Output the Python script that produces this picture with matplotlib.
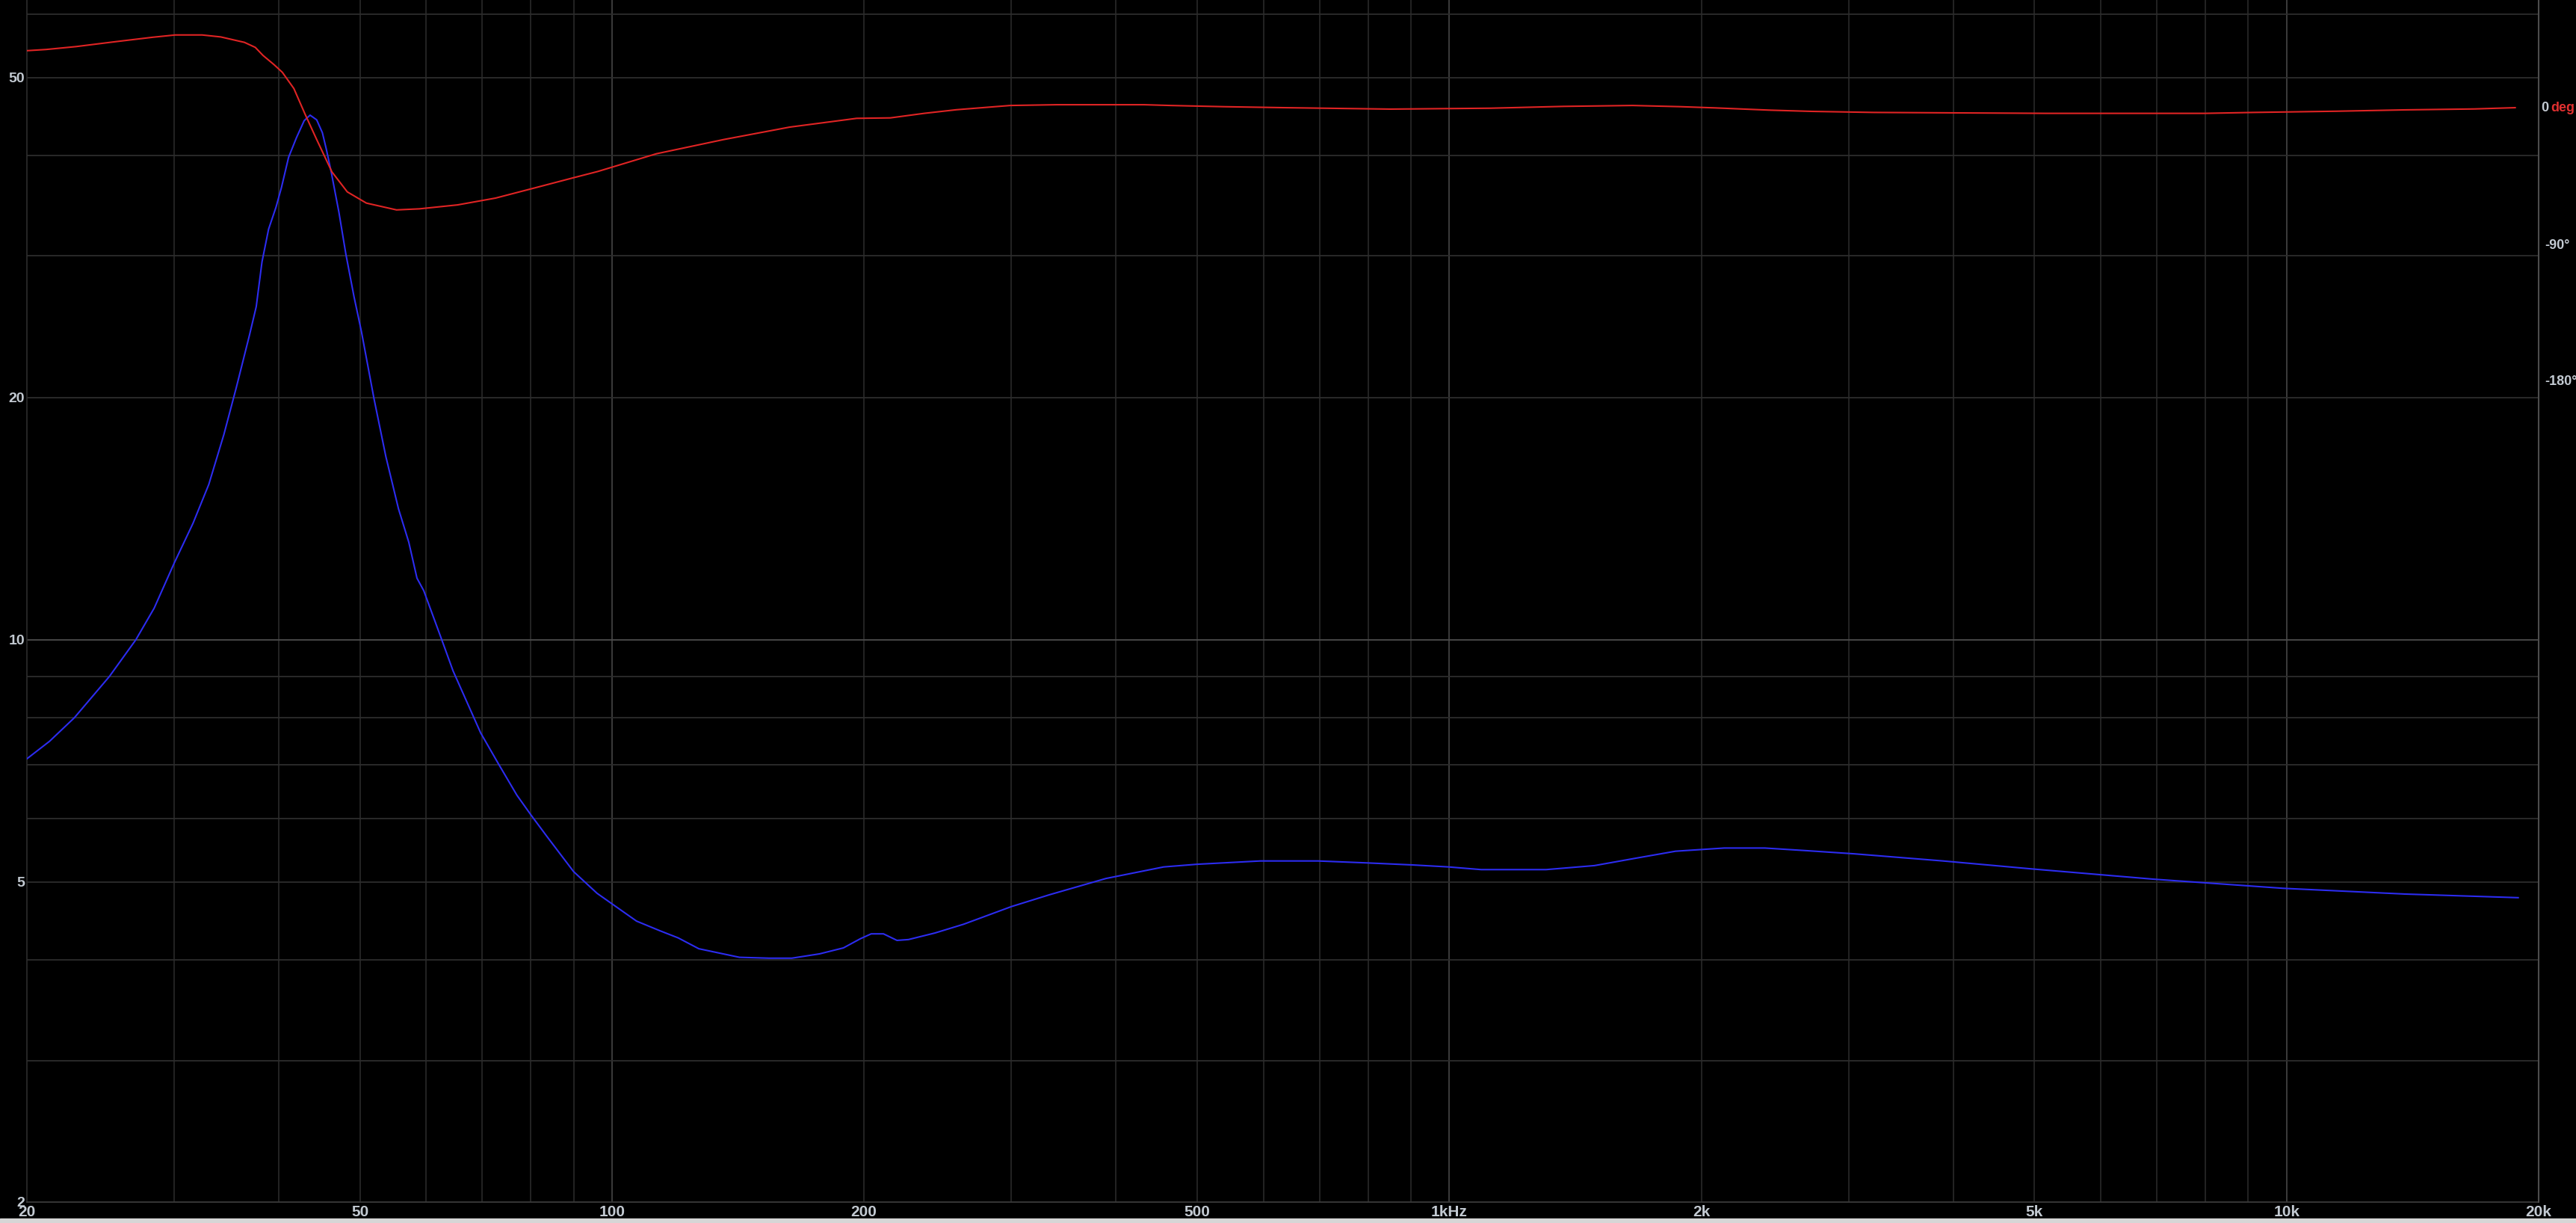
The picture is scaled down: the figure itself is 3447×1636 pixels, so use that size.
import numpy as np
import matplotlib
matplotlib.use("Agg")
import matplotlib.pyplot as plt
from matplotlib.patches import Rectangle

# Impedance magnitude (ohm) vs frequency (Hz)
imp_freq = [20, 21.3, 22.8, 25.1, 27.0, 28.4, 30.0, 31.6, 33.0, 34.4, 35.6, 36.9,
            37.6, 38.2, 38.9, 39.7, 40.3, 41.1, 42.0, 42.9, 43.6, 44.4, 45.1, 45.6,
            46.2, 47.2, 48.1, 49.2, 50.2, 52.0, 53.7, 55.6, 57.2, 58.5, 59.6, 62.5,
            64.6, 69.7, 73.2, 77.0, 80.1, 83.9, 90, 96, 107, 114, 120, 127, 142,
            154, 164, 177, 189, 198, 204, 211, 219, 226, 243, 263, 300, 333, 389,
            456, 500, 595, 697, 799, 903, 998, 1092, 1305, 1491, 1667, 1863, 2130,
            2381, 2662, 3042, 3888, 4966, 6938, 9909, 13845, 18905]
imp_ohm = [7.11, 7.48, 8.00, 9.00, 10.0, 10.95, 12.45, 13.96, 15.6, 18.0, 20.6, 23.9,
           25.95, 29.5, 32.4, 34.5, 36.5, 39.8, 42.1, 44.2, 44.9, 44.3, 42.7, 40.7,
           38.2, 34.0, 30.2, 26.7, 24.2, 19.9, 16.9, 14.55, 13.22, 11.93, 11.51, 10.06,
           9.15, 7.66, 7.01, 6.41, 6.05, 5.67, 5.15, 4.84, 4.47, 4.35, 4.26, 4.13, 4.03,
           4.02, 4.02, 4.07, 4.14, 4.25, 4.31, 4.31, 4.23, 4.24, 4.32, 4.43, 4.66, 4.82, 5.05,
           5.22, 5.26, 5.31, 5.31, 5.28, 5.25, 5.22, 5.18, 5.18, 5.24, 5.35, 5.46, 5.51,
           5.51, 5.47, 5.42, 5.31, 5.19, 5.04, 4.91, 4.83, 4.78]

# Impedance phase (degrees)
ph_freq = [20, 21.1, 22.9, 25.4, 28.3, 30.1, 32.4, 34.1, 36.4, 37.5, 38.3, 39.5,
           40.4, 41.7, 43.0, 44.4, 46.3, 48.3, 50.9, 55.3, 58.9, 65.4, 72.6, 80.7,
           89.6, 96.2, 113, 136, 163, 196, 215, 236, 258, 299, 340, 432, 464, 538,
           635, 851, 1120, 1369, 1655, 1890, 2078, 2418, 2710, 3215, 5167, 7992,
           9120, 11455, 13848, 16735, 18750]
ph_deg = [37.8, 38.6, 40.5, 43.6, 46.7, 48.2, 48.2, 46.9, 43.3, 40.0, 34.7, 28.5,
          23.5, 12.8, -4.1, -20.9, -42.3, -55.5, -62.9, -67.4, -66.7, -64.1, -59.6, -53.0,
          -46.4, -42.0, -30.3, -20.9, -12.7, -6.9, -6.6, -3.6, -1.2, 1.6, 2.1, 2.1, 1.6, 0.8,
          0.15, -0.8, -0.2, 1.0, 1.6, 0.8, 0.0, -1.5, -2.3, -3.0, -3.6, -3.6,
          -3.0, -2.2, -1.3, -0.7, 0.15]

x_ticks = [20, 50, 100, 200, 500, 1000, 2000, 5000, 10000, 20000]
x_labels = ['20', '50', '100', '200', '500', '1kHz', '2k', '5k', '10k', '20k']
y_ticks = [2, 5, 10, 20, 50]
y_labels = ['2', '5', '10', '20', '50']
ph_ticks = [-90, -180]
ph_labels = ['-90°', '-180°']

txt_col = '#c3cad2'
minor_col = '#2d2d2d'
major_col = '#4c4c4c'
bold_font = ['Liberation Sans', 'DejaVu Sans']
narrow_font = ['Liberation Sans Narrow', 'Liberation Sans', 'DejaVu Sans']

fig = plt.figure(figsize=(34.47, 16.36), dpi=100, facecolor='black')
ax = fig.add_axes([0.010357, 0.017115, 0.97514, 0.98289])
ax.set_facecolor('black')
ax.set_xscale('log')
ax.set_yscale('log')
ax.set_xlim(20, 20000)
ax.set_ylim(2, 62.43)

# grid lines on every 1..9 multiple, decades brighter
for e in range(1, 5):
    for m in range(1, 10):
        v = m * 10 ** e
        if 20 < v < 20000:
            ax.axvline(v, color=major_col if m == 1 else minor_col, lw=1.1, zorder=0)
for e in range(0, 2):
    for m in range(1, 10):
        v = m * 10 ** e
        if 2 < v < 62:
            ax.axhline(v, color=major_col if m == 1 else minor_col, lw=1.3, zorder=0)

ax.plot(imp_freq, imp_ohm, color='#2c2cf0', lw=1.5, zorder=3)

ax.set_xticks(x_ticks, x_labels)
ax.set_xticks([], minor=True)
ax.set_yticks(y_ticks, y_labels)
ax.set_yticks([], minor=True)
ax.tick_params(axis='x', length=0, pad=3, colors=txt_col, labelsize=15)
ax.tick_params(axis='y', length=0, pad=2, colors=txt_col, labelsize=14)
for lab in ax.get_xticklabels():
    lab.set_family(narrow_font)
    lab.set_fontweight('bold')
for lab in ax.get_yticklabels():
    lab.set_family(bold_font)
    lab.set_fontweight('bold')

for s in ('top', 'right'):
    ax.spines[s].set_visible(False)
ax.spines['left'].set_color(minor_col)
ax.spines['bottom'].set_color('#3a3a3a')
ax.spines['left'].set_linewidth(1.2)
ax.spines['bottom'].set_linewidth(1.3)

# phase on a right-hand axis
ax2 = ax.twinx()
ax2.set_ylim(-723.0, 71.3)
ax2.plot(ph_freq, ph_deg, color='#e02424', lw=1.5, zorder=4)
ax2.set_yticks(ph_ticks, ph_labels)
ax2.set_yticks([], minor=True)
ax2.tick_params(axis='y', length=0, pad=6, colors=txt_col, labelsize=13)
for lab in ax2.get_yticklabels():
    lab.set_family(bold_font)
    lab.set_fontweight('bold')
for s in ('top', 'left', 'bottom'):
    ax2.spines[s].set_visible(False)
ax2.spines['right'].set_color(major_col)
ax2.spines['right'].set_linewidth(1.5)

ax2.annotate('0', xy=(1, 0), xycoords=('axes fraction', 'data'),
             xytext=(2, 0), textcoords='offset points', ha='left', va='center',
             color=txt_col, fontsize=13, fontweight='bold', family=bold_font)
ax2.annotate('deg', xy=(1, 0), xycoords=('axes fraction', 'data'),
             xytext=(12, 0), textcoords='offset points', ha='left', va='center',
             color='#e03030', fontsize=13, fontweight='bold', family=bold_font)

# light window edge along the bottom
fig.patches.append(Rectangle((0, 0), 1, 6 / 1636, transform=fig.transFigure,
                             color='#d6d6d6', zorder=10))

fig.savefig('out.png', dpi=100, facecolor='black')
